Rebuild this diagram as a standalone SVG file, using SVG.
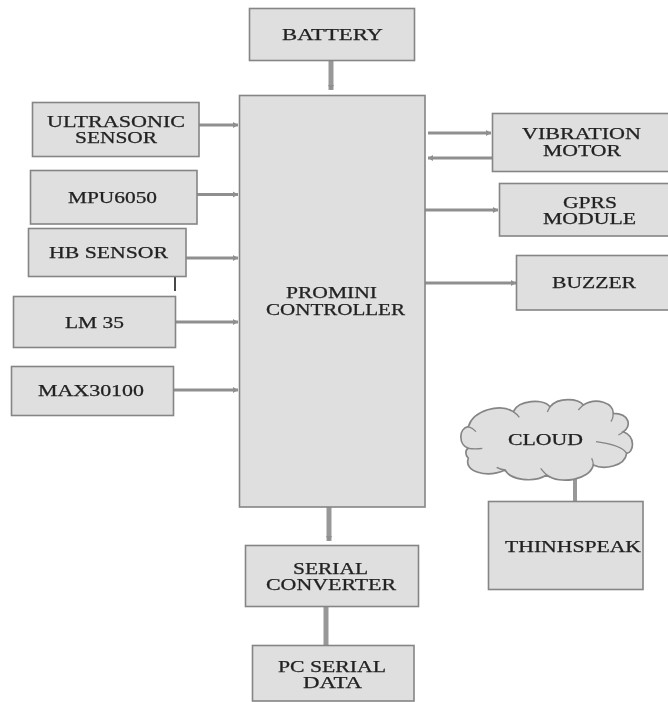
<svg xmlns="http://www.w3.org/2000/svg" width="668" height="702" viewBox="0 0 668 702">
<defs>
<style>
.b{fill:#dfdfdf;stroke:#858585;stroke-width:1.6}
.t{font-family:"Liberation Serif","Times New Roman",serif;font-size:16px;fill:#222;stroke:#222;stroke-width:.25}
.c{fill:none;stroke:#8f8f8f;stroke-width:3}
.w{fill:none;stroke:#989898;stroke-width:5}
</style>
<filter id="s" x="-5%" y="-5%" width="110%" height="110%"><feGaussianBlur stdDeviation="0.45"/></filter>
<marker id="a" markerUnits="userSpaceOnUse" markerWidth="6" markerHeight="8" refX="5" refY="4" orient="auto"><path d="M0 1L5 4L0 7Z" fill="#8f8f8f"/></marker>
</defs>
<rect width="668" height="702" fill="#fff"/>
<g filter="url(#s)">
<g id="connectors">
<path class="w" d="M331 60V90" marker-end="url(#a)"/>
<path class="c" d="M199 125H238" marker-end="url(#a)"/>
<path class="c" d="M197 194.500H238" marker-end="url(#a)"/>
<path class="c" d="M186 258H238" marker-end="url(#a)"/>
<path class="c" d="M175 322H238" marker-end="url(#a)"/>
<path class="c" d="M173 390H238" marker-end="url(#a)"/>
<path class="c" d="M428 133H491" marker-end="url(#a)"/>
<path class="c" d="M492 158H428" marker-end="url(#a)"/>
<path class="c" d="M425 210H498" marker-end="url(#a)"/>
<path class="c" d="M425 283H516" marker-end="url(#a)"/>
<path class="w" d="M329 507V541" marker-end="url(#a)"/>
<path class="w" d="M326 606V645"/>
<path class="w" d="M575 477V501" style="stroke-width:4"/>
<path d="M175 275V291" fill="none" stroke="#1a1a1a" stroke-width="1.600"/>
</g>
<g id="battery"><rect class="b" x="249.500" y="8.500" width="165" height="52"/><text class="t" x="282" y="40" textLength="101" lengthAdjust="spacingAndGlyphs">BATTERY</text></g>
<g id="controller"><rect class="b" x="239.500" y="95.500" width="185.500" height="411.500"/><text class="t" x="286" y="298" textLength="91" lengthAdjust="spacingAndGlyphs">PROMINI</text><text class="t" x="266" y="315" textLength="139" lengthAdjust="spacingAndGlyphs">CONTROLLER</text></g>
<g id="ultrasonic"><rect class="b" x="32.500" y="102.500" width="166.500" height="54"/><text class="t" x="47" y="126.500" textLength="138" lengthAdjust="spacingAndGlyphs">ULTRASONIC</text><text class="t" x="75" y="143" textLength="82" lengthAdjust="spacingAndGlyphs">SENSOR</text></g>
<g id="mpu6050"><rect class="b" x="30.500" y="170.500" width="166.500" height="53.500"/><text class="t" x="68" y="203" textLength="89" lengthAdjust="spacingAndGlyphs">MPU6050</text></g>
<g id="hb"><rect class="b" x="28.500" y="228.500" width="157.500" height="48"/><text class="t" x="49" y="258" textLength="119" lengthAdjust="spacingAndGlyphs">HB SENSOR</text></g>
<g id="lm35"><rect class="b" x="13.500" y="296.500" width="162" height="51"/><text class="t" x="65" y="328" textLength="59" lengthAdjust="spacingAndGlyphs">LM 35</text></g>
<g id="max30100"><rect class="b" x="11.500" y="366.500" width="162" height="49"/><text class="t" x="38" y="396" textLength="106" lengthAdjust="spacingAndGlyphs">MAX30100</text></g>
<g id="vibration"><rect class="b" x="492.500" y="113.500" width="177" height="58"/><text class="t" x="522" y="139" textLength="119" lengthAdjust="spacingAndGlyphs">VIBRATION</text><text class="t" x="543" y="156" textLength="78" lengthAdjust="spacingAndGlyphs">MOTOR</text></g>
<g id="gprs"><rect class="b" x="499.500" y="183.500" width="170" height="52.500"/><text class="t" x="563" y="208" textLength="54" lengthAdjust="spacingAndGlyphs">GPRS</text><text class="t" x="543" y="224" textLength="93" lengthAdjust="spacingAndGlyphs">MODULE</text></g>
<g id="buzzer"><rect class="b" x="516.500" y="255.500" width="153" height="54.500"/><text class="t" x="552" y="288" textLength="84" lengthAdjust="spacingAndGlyphs">BUZZER</text></g>
<g id="cloud">
<path transform="translate(450 390) scale(.3333)" fill="#dfdfdf" stroke="#858585" stroke-width="5" d="M55 110C70 60 150 40 190 65C205 30 280 25 300 50C325 20 385 25 400 45C440 20 490 40 490 70C540 70 545 110 520 125C560 140 550 190 530 190C525 230 460 240 430 225C420 270 330 285 290 255C250 280 180 270 165 240C110 265 40 245 55 205C45 195 45 180 55 175C25 165 25 115 55 110Z"/>
<path transform="translate(450 390) scale(.3333)" fill="none" stroke="#858585" stroke-width="4" d="M55 110Q70 115 78 125M190 65Q200 72 208 82M300 50Q296 58 292 66M400 45Q392 52 385 60M490 70Q490 85 483 95M520 125Q512 132 505 135M530 190Q515 165 438 155M430 225Q430 215 425 205M290 255Q280 245 272 235M165 240Q150 238 140 232M55 175Q75 178 97 175"/>
<text class="t" x="508" y="445" textLength="75" lengthAdjust="spacingAndGlyphs">CLOUD</text></g>
<g id="thinhspeak"><rect class="b" x="488.500" y="501.500" width="154.500" height="88"/><text class="t" x="505" y="552" textLength="136" lengthAdjust="spacingAndGlyphs">THINHSPEAK</text></g>
<g id="serial"><rect class="b" x="245.500" y="545.500" width="173" height="61"/><text class="t" x="293" y="574" textLength="75" lengthAdjust="spacingAndGlyphs">SERIAL</text><text class="t" x="266" y="590" textLength="130" lengthAdjust="spacingAndGlyphs">CONVERTER</text></g>
<g id="pc"><rect class="b" x="252.500" y="645.500" width="161.500" height="55.500"/><text class="t" x="278" y="672" textLength="108" lengthAdjust="spacingAndGlyphs">PC SERIAL</text><text class="t" x="303" y="688" textLength="59" lengthAdjust="spacingAndGlyphs">DATA</text></g>
</g>
</svg>
